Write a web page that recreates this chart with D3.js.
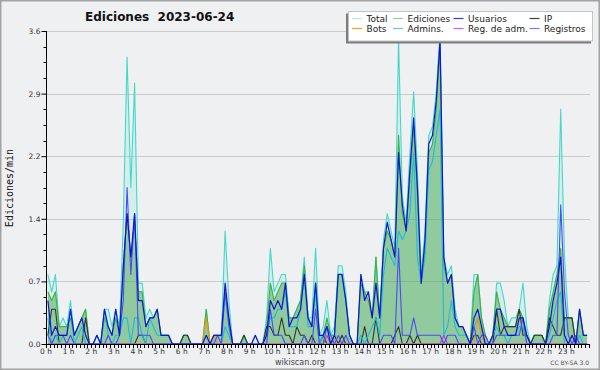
<!DOCTYPE html>
<html><head><meta charset="utf-8">
<script src="https://cdn.jsdelivr.net/npm/d3@7/dist/d3.min.js"></script>
<style>html,body{margin:0;padding:0;background:#fff;}svg{display:block;}</style>
</head><body>
<svg id="chart" width="600" height="370"></svg>
<script>
// ---------- data (edits per minute, 10-minute bins, 0h00 .. 23h50) ----------
const hourLabels = ["0 h","1 h","2 h","3 h","4 h","5 h","6 h","7 h","8 h","9 h","10 h","11 h",
  "12 h","13 h","14 h","15 h","16 h","17 h","18 h","19 h","20 h","21 h","22 h","23 h"];
const yTickValues = [0, 0.72, 1.44, 2.16, 2.88, 3.6];
const yTickLabels = ["0.0","0.7","1.4","2.2","2.9","3.6"];

const total = [
0.8,0.6,0.8,0.2,0.3,0.2, 0.5,0.1,0.2,0.3,0.4,0.0, 0.0,0.1,0.0,0.4,0.4,0.2, 0.4,0.2,1.4,3.3,1.8,3.0,
0.7,0.7,0.3,0.4,0.3,0.4, 0.1,0.1,0.1,0.0,0.0,0.0, 0.1,0.1,0.0,0.0,0.0,0.0, 0.4,0.0,0.1,0.1,0.1,1.3,
0.5,0.0,0.0,0.0,0.1,0.0, 0.0,0.1,0.0,0.0,0.3,1.1, 0.6,0.7,0.8,0.8,0.3,0.3, 0.4,0.5,1.0,0.3,0.3,1.1,
0.1,0.2,0.5,0.1,0.2,0.9, 0.9,0.6,0.1,0.0,0.0,0.8, 0.6,0.6,0.3,1.0,0.3,1.2, 1.5,1.3,1.1,3.5,1.7,1.4,
2.2,2.9,2.0,0.8,1.3,2.4, 2.5,2.9,3.6,1.0,0.8,0.9, 0.4,0.2,0.2,0.1,0.0,0.8, 0.8,0.3,0.1,0.0,0.1,0.7,
0.7,0.5,0.2,0.3,0.3,0.4, 0.7,0.2,0.0,0.1,0.1,0.1, 0.0,0.5,0.8,0.9,2.7,1.0, 0.3,0.3,0.0,0.4,0.1,0.1];

const ediciones = [
0.6,0.5,0.6,0.2,0.2,0.2, 0.3,0.1,0.2,0.3,0.4,0.0, 0.0,0.0,0.0,0.3,0.2,0.1, 0.3,0.1,0.9,1.5,1.0,1.4,
0.6,0.6,0.2,0.3,0.3,0.4, 0.1,0.1,0.1,0.0,0.0,0.0, 0.1,0.1,0.0,0.0,0.0,0.0, 0.4,0.0,0.1,0.1,0.1,0.6,
0.3,0.0,0.0,0.0,0.1,0.0, 0.0,0.0,0.0,0.0,0.2,0.7, 0.5,0.6,0.7,0.7,0.3,0.3, 0.4,0.5,0.9,0.3,0.2,0.7,
0.1,0.1,0.3,0.1,0.1,0.8, 0.8,0.5,0.1,0.0,0.0,0.7, 0.6,0.5,0.3,1.0,0.3,1.1, 1.3,1.2,1.0,2.4,1.5,1.3,
1.9,2.5,1.7,0.7,1.1,2.2, 2.3,2.7,3.4,0.9,0.7,0.8, 0.3,0.2,0.2,0.1,0.0,0.6, 0.8,0.3,0.1,0.0,0.1,0.6,
0.4,0.3,0.2,0.2,0.2,0.4, 0.3,0.1,0.0,0.1,0.1,0.1, 0.0,0.4,0.6,0.8,1.1,0.3, 0.3,0.3,0.0,0.4,0.1,0.1];

const usuarios = [
0.5,0.1,0.2,0.1,0.1,0.1, 0.4,0.1,0.2,0.3,0.1,0.0, 0.0,0.1,0.0,0.4,0.2,0.1, 0.4,0.1,0.9,1.5,1.0,1.5,
0.5,0.5,0.2,0.3,0.3,0.4, 0.1,0.1,0.1,0.0,0.0,0.0, 0.0,0.0,0.0,0.0,0.0,0.0, 0.1,0.0,0.1,0.1,0.1,0.7,
0.3,0.0,0.0,0.0,0.0,0.0, 0.0,0.1,0.0,0.0,0.1,0.5, 0.4,0.5,0.4,0.7,0.2,0.3, 0.3,0.4,0.8,0.3,0.2,0.7,
0.1,0.1,0.2,0.0,0.1,0.8, 0.8,0.5,0.1,0.0,0.0,0.8, 0.5,0.6,0.3,0.7,0.3,1.1, 1.4,1.2,1.0,2.2,1.6,1.3,
2.0,2.6,1.8,0.7,1.2,2.3, 2.4,2.8,3.5,1.0,0.7,0.8, 0.3,0.2,0.2,0.1,0.0,0.3, 0.4,0.2,0.0,0.0,0.1,0.4,
0.4,0.2,0.1,0.1,0.1,0.3, 0.3,0.1,0.0,0.0,0.0,0.0, 0.0,0.2,0.5,0.7,1.0,0.1, 0.0,0.1,0.0,0.4,0.1,0.1];

const ip = [
0.1,0.4,0.4,0.0,0.0,0.0, 0.0,0.0,0.0,0.0,0.3,0.0, 0.0,0.0,0.0,0.0,0.0,0.0, 0.0,0.0,0.0,0.0,0.0,0.0,
0.1,0.1,0.0,0.0,0.0,0.0, 0.0,0.0,0.0,0.0,0.0,0.0, 0.1,0.1,0.0,0.0,0.0,0.0, 0.0,0.0,0.0,0.0,0.0,0.0,
0.0,0.0,0.0,0.0,0.1,0.0, 0.0,0.0,0.0,0.0,0.2,0.2, 0.1,0.1,0.3,0.1,0.1,0.0, 0.2,0.1,0.1,0.0,0.1,0.0,
0.0,0.1,0.0,0.0,0.1,0.0, 0.1,0.0,0.0,0.0,0.0,0.0, 0.2,0.0,0.0,0.3,0.0,0.0, 0.0,0.0,0.1,0.2,0.0,0.0,
0.1,0.0,0.1,0.0,0.0,0.0, 0.0,0.0,0.0,0.0,0.0,0.0, 0.0,0.0,0.0,0.0,0.0,0.1, 0.1,0.0,0.0,0.0,0.0,0.4,
0.1,0.2,0.2,0.2,0.2,0.4, 0.1,0.1,0.0,0.1,0.1,0.1, 0.0,0.3,0.2,0.1,0.1,0.3, 0.3,0.3,0.0,0.0,0.0,0.0];

const bots = [
0,0,0,0,0,0, 0,0,0,0,0,0, 0,0,0,0,0,0, 0,0,0,0,0,0,
0,0,0,0,0,0, 0,0,0,0,0,0, 0,0,0,0,0,0, 0.3,0,0.1,0,0,0,
0,0,0,0,0,0, 0,0,0,0,0,0, 0,0,0,0,0,0, 0,0,0,0,0,0,
0,0,0,0,0,0, 0,0,0,0,0,0, 0,0,0,0,0,0, 0,0,0,0,0,0,
0,0,0,0,0,0, 0,0,0,0,0,0, 0,0,0,0,0,0, 0.3,0.1,0,0,0,0,
0,0,0,0,0,0, 0,0,0,0,0,0, 0,0,0,0,0,0, 0,0,0,0,0,0];

const admins = [
0.3,0.0,0.1,0.0,0.1,0.1, 0.4,0.0,0.1,0.2,0.0,0.0, 0.0,0.1,0.0,0.4,0.1,0.0, 0.1,0.1,0.3,0.3,0.0,0.3,
0.3,0.1,0.0,0.3,0.2,0.1, 0.1,0.1,0.1,0.0,0.0,0.0, 0.0,0.0,0.0,0.0,0.0,0.0, 0.0,0.0,0.0,0.0,0.0,0.2,
0.1,0.0,0.0,0.0,0.0,0.0, 0.0,0.0,0.0,0.0,0.1,0.3, 0.3,0.4,0.4,0.6,0.2,0.2, 0.2,0.4,0.8,0.2,0.2,0.6,
0.0,0.1,0.2,0.1,0.1,0.8, 0.8,0.5,0.1,0.0,0.0,0.1, 0.0,0.1,0.2,0.3,0.1,0.8, 1.1,1.0,0.9,1.3,1.2,1.3,
1.5,2.2,1.0,0.7,1.0,2.0, 2.1,2.4,2.7,0.1,0.2,0.5, 0.2,0.1,0.1,0.1,0.0,0.2, 0.3,0.1,0.0,0.0,0.1,0.2,
0.1,0.1,0.0,0.1,0.1,0.2, 0.2,0.0,0.0,0.0,0.0,0.0, 0.0,0.1,0.3,0.5,0.6,0.0, 0.0,0.0,0.0,0.1,0.0,0.0];

const regAdm = [
0,0,0,0,0,0, 0,0,0,0,0,0, 0,0,0,0,0,0, 0,0,0,0,0,0,
0,0,0,0,0,0, 0,0,0,0,0,0, 0,0,0,0,0,0, 0,0,0,0,0,0,
0,0,0,0,0,0, 0,0,0,0,0,0, 0,0,0,0,0,0, 0,0,0,0,0,0,
0,0,0.1,0,0,0, 0,0,0,0,0,0, 0,0,0,0,0,0, 0,0,0,0,0,0,
0,0,0,0,0,0, 0,0,0,0.1,0,0, 0,0,0,0,0,0, 0,0,0,0,0,0,
0,0,0,0,0,0, 0,0,0,0,0,0, 0,0,0,0,0,0, 0,0,0,0,0,0];

const registros = [
0.1,0.0,0.1,0.1,0.1,0.0, 0.1,0.0,0.0,0.0,0.0,0.0, 0.0,0.0,0.0,0.0,0.1,0.0, 0.0,0.1,0.5,1.8,0.8,1.5,
0.1,0.1,0.1,0.1,0.0,0.0, 0.0,0.0,0.0,0.0,0.0,0.0, 0.0,0.0,0.0,0.0,0.0,0.0, 0.0,0.0,0.0,0.1,0.0,0.6,
0.2,0.0,0.0,0.0,0.0,0.0, 0.0,0.0,0.0,0.0,0.0,0.4, 0.1,0.1,0.1,0.0,0.0,0.0, 0.0,0.0,0.1,0.0,0.0,0.4,
0.0,0.0,0.2,0.1,0.0,0.1, 0.0,0.1,0.0,0.0,0.0,0.0, 0.0,0.0,0.0,0.0,0.0,0.1, 0.1,0.1,0.0,1.1,0.1,0.1,
0.1,0.3,0.1,0.1,0.1,0.1, 0.1,0.1,0.1,0.0,0.1,0.1, 0.1,0.0,0.0,0.0,0.0,0.2, 0.0,0.1,0.1,0.0,0.0,0.1,
0.1,0.1,0.1,0.1,0.1,0.1, 0.3,0.0,0.0,0.0,0.0,0.0, 0.0,0.0,0.1,0.1,1.6,0.6, 0.1,0.0,0.1,0.0,0.0,0.0];

const legendNames = ["Total","Ediciones","Usuarios","IP","Bots","Admins.","Reg. de adm.","Registros"];
const legendColors = ["#b4ece6","#92d492","#3a3acc","#444444","#f0a030","#5ccde0","#d65ee4","#7a7af2"];

// ---------- drawing ----------
const svg = d3.select("#chart");
const W = 600, H = 370;
const X0 = 46, X1 = 589, Y0 = 344, Y1 = 31;
const FONT = "'DejaVu Sans', Verdana, sans-serif";

svg.append("rect").attr("x",0.75).attr("y",0.75).attr("width",W-1.5).attr("height",H-1.5)
  .attr("fill","#eff0f2").attr("stroke","#a3a3a3").attr("stroke-width",1.5);

const x = d3.scaleLinear().domain([0,1440]).range([X0,X1]);
const y = d3.scaleLinear().domain([0,3.6]).range([Y0,Y1]);
const bins = d3.range(total.length);
const px = i => x(i*10+5);

// grid
svg.append("g").selectAll("line").data(yTickValues.slice(1)).join("line")
  .attr("x1",X0).attr("x2",X1+1).attr("y1",d=>Math.round(y(d))+0.5).attr("y2",d=>Math.round(y(d))+0.5)
  .attr("stroke","#cbcbcb").attr("stroke-width",1);

const area = s => d3.area().x(i=>px(i)).y0(y(0)).y1(i=>y(s[i]))(bins);
const line = s => d3.line().x(i=>px(i)).y(i=>y(s[i]))(bins);

svg.append("path").attr("d",area(total)).attr("fill","#40e0d0").attr("fill-opacity",0.15);
svg.append("path").attr("d",area(ediciones)).attr("fill","#3ca03c").attr("fill-opacity",0.45);

const series = [
  [total,"#45d8ca",1.1],
  [ediciones,"#3fb043",1.1],
  [ip,"#333333",1.1],
  [admins,"#1fb9dd",1.1],
  [bots,"#f0960f",1.1],
  [regAdm,"#cc33dd",1.1],
  [registros,"#4c4cf4",1.1],
  [usuarios,"#1414cf",1.2]
];
series.forEach(([s,c,w]) => {
  svg.append("path").attr("d",line(s)).attr("fill","none").attr("stroke",c)
    .attr("stroke-width",w).attr("stroke-linejoin","round");
});

// y axis
const yAxis = d3.axisLeft(y).tickValues(yTickValues).tickSize(5).tickPadding(1)
  .tickFormat((d,i)=>yTickLabels[i]);
const gy = svg.append("g").attr("transform",`translate(${X0+0.5},0)`).call(yAxis);
gy.select(".domain").attr("stroke","#000").attr("d",`M0,${Y1}V${Y0+0.5}`);
gy.selectAll(".tick line").attr("stroke","#000");
gy.selectAll(".tick text").attr("font-family",FONT).attr("font-size","7.5px").attr("fill","#333");
const minor = [];
for (let k=0;k<5;k++) for (let m=1;m<4;m++) minor.push(yTickValues[k]+m*0.18);
gy.append("g").selectAll("line").data(minor).join("line")
  .attr("x1",-3).attr("x2",0).attr("y1",d=>Math.round(y(d))+0.5).attr("y2",d=>Math.round(y(d))+0.5)
  .attr("stroke","#000");

// x axis
const gx = svg.append("g");
gx.append("line").attr("x1",X0).attr("x2",X1+0.5).attr("y1",Y0+0.5).attr("y2",Y0+0.5).attr("stroke","#000");
gx.selectAll("line.t").data(d3.range(0,1441,10)).join("line").attr("class","t")
  .attr("x1",d=>Math.round(x(d))+0.5).attr("x2",d=>Math.round(x(d))+0.5)
  .attr("y1",Y0).attr("y2",Y0+4).attr("stroke","#000");
gx.selectAll("text").data(hourLabels).join("text")
  .attr("x",(d,i)=>x(i*60)).attr("y",354).attr("text-anchor","middle")
  .attr("font-family",FONT).attr("font-size","7.5px").attr("fill","#333").text(d=>d);

// y title
svg.append("text").attr("transform","translate(13,188) rotate(-90)").attr("text-anchor","middle")
  .attr("font-family","'DejaVu Sans Mono', monospace").attr("font-size","10px").attr("fill","#111")
  .text("Ediciones/min");

// title
svg.append("text").attr("x",85).attr("y",20.5).attr("font-family",FONT).attr("font-weight","bold")
  .attr("font-size","12px").attr("fill","#111").style("white-space","pre").text("Ediciones  2023-06-24");

// footer
svg.append("text").attr("x",300).attr("y",365).attr("text-anchor","middle").attr("font-family",FONT)
  .attr("font-size","8px").attr("fill","#444").text("wikiscan.org");
svg.append("text").attr("x",589).attr("y",364.5).attr("text-anchor","end").attr("font-family",FONT)
  .attr("font-size","6px").attr("fill","#555").text("CC BY-SA 3.0");

// legend
const lg = svg.append("g");
lg.append("rect").attr("x",346).attr("y",13.5).attr("width",245).attr("height",30).attr("fill","#7d7d7d");
lg.append("rect").attr("x",348.5).attr("y",11.5).attr("width",244).attr("height",29.5)
  .attr("fill","#ffffff").attr("stroke","#c4c4c4");
const colX = [352,393,453.5,529.5];
const rowY = [18.5,28.5];
legendNames.forEach((n,i)=>{
  const c = i%4, r = Math.floor(i/4);
  lg.append("line").attr("x1",colX[c]).attr("x2",colX[c]+10).attr("y1",rowY[r]).attr("y2",rowY[r])
    .attr("stroke",legendColors[i]).attr("stroke-width",1.2);
  lg.append("text").attr("x",colX[c]+14.5).attr("y",rowY[r]+3.2).attr("font-family",FONT)
    .attr("font-size","9px").attr("fill","#222").text(n);
});
</script>
</body></html>
